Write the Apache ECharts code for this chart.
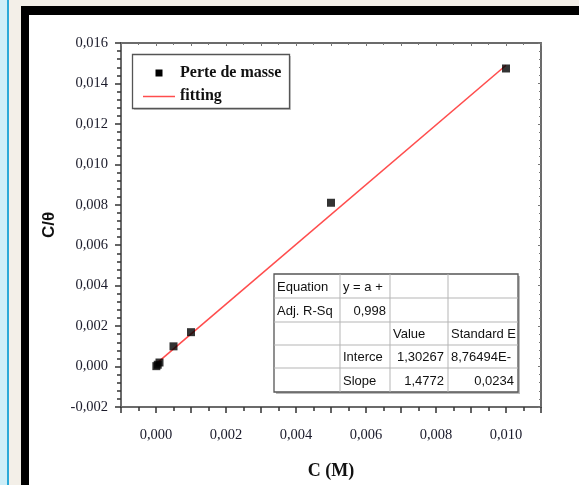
<!DOCTYPE html>
<html><head><meta charset="utf-8">
<script src="https://cdn.jsdelivr.net/npm/echarts@6/dist/echarts.min.js"></script>
<style>
html,body{margin:0;padding:0;width:579px;height:485px;overflow:hidden;background:#f3efe8;}
#strip{position:absolute;left:0;top:0;width:7px;height:485px;background:#cdeef8;}
#bar{position:absolute;left:7px;top:0;width:2px;height:485px;background:#2aa9d8;}
#frame{position:absolute;left:21px;top:6px;right:0;bottom:0;border-left:8px solid #000;border-top:9px solid #000;background:#fff;}
#chart{position:absolute;left:0;top:0;width:579px;height:485px;}
</style></head><body>
<div id="strip"></div><div id="bar"></div><div id="frame"></div>
<div id="chart"></div>
<script>
// ---- data ----
const concentration = [0.00001, 0.00005, 0.0001, 0.0005, 0.001, 0.005, 0.010];
const cOverTheta    = [0.00002, 0.00009, 0.0002, 0.0010, 0.0017, 0.0081, 0.01474];
const fitX = [0, 0.010];
const fitY = [0.00013, 0.0149];
const xRange = [-0.001, 0.011];
const yRange = [-0.002, 0.016];
const xLabelStep = 0.002;
const seriesNames = ['Perte de masse', 'fitting'];
const tableRows = [
  ['Equation', 'y = a +', '', ''],
  ['Adj. R-Sq', '0,998', '', ''],
  ['', '', 'Value', 'Standard E'],
  ['', 'Interce', '1,30267', '8,76494E-'],
  ['', 'Slope', '1,4772', '0,0234']
];

const fmt = v => {
  const r = Math.round(v * 10000) / 10000;
  return r.toFixed(3).replace('.', ',');
};
const fmtX = v => {
  const k = Math.round(v / 0.001);
  if (Math.abs(k % Math.round(xLabelStep / 0.001)) !== 0) return '';
  return fmt(v);
};
const serif = '"Liberation Serif","Times New Roman",serif';
const sans = '"Liberation Sans",Arial,sans-serif';

// table geometry
const colX = [274, 340, 390, 448, 518];
const rowY = [274, 298, 322, 345, 368, 392];
const align = [
  ['left','left','',''],
  ['left','right','',''],
  ['','','left','left'],
  ['','left','right','left'],
  ['','left','right','right']
];
const tableGraphics = [];
tableGraphics.push({type:'rect', shape:{x:colX[0]+2, y:rowY[0]+2, width:colX[4]-colX[0], height:rowY[5]-rowY[0]}, style:{fill:'#bbb'}, z:10});
tableGraphics.push({type:'rect', shape:{x:colX[0], y:rowY[0], width:colX[4]-colX[0], height:rowY[5]-rowY[0]}, style:{fill:'#fff', stroke:'#555', lineWidth:1.3}, z:11});
for (let i = 1; i < 5; i++) tableGraphics.push({type:'line', shape:{x1:colX[0], y1:rowY[i], x2:colX[4], y2:rowY[i]}, style:{stroke:'#b5b5b5', lineWidth:1}, z:12});
for (let j = 1; j < 4; j++) tableGraphics.push({type:'line', shape:{x1:colX[j], y1:rowY[0], x2:colX[j], y2:rowY[5]}, style:{stroke:'#b5b5b5', lineWidth:1}, z:12});
tableRows.forEach((row, i) => row.forEach((txt, j) => {
  if (!txt) return;
  const a = align[i][j];
  const x = a === 'left' ? colX[j] + 3 : colX[j+1] - 4;
  tableGraphics.push({type:'text', z:13, style:{text:txt, x:x, y:(rowY[i]+rowY[i+1])/2 + 1, align:a, verticalAlign:'middle', font:'13px ' + sans, fill:'#111'}});
}));

// legend box
const legendGraphics = [
  {type:'rect', shape:{x:134, y:56, width:157, height:54}, style:{fill:'#c8c8c8'}, z:10},
  {type:'rect', shape:{x:132.5, y:54.5, width:157, height:54}, style:{fill:'#fff', stroke:'#555', lineWidth:1.3}, z:11},
  {type:'rect', shape:{x:155.5, y:69.5, width:7, height:7}, style:{fill:'#000'}, z:12},
  {type:'text', z:12, style:{text:seriesNames[0], x:180, y:73, verticalAlign:'middle', font:'bold 16px ' + serif, fill:'#111'}},
  {type:'line', shape:{x1:143, y1:96.5, x2:175, y2:96.5}, style:{stroke:'#ff4d4d', lineWidth:1.5}, z:12},
  {type:'text', z:12, style:{text:seriesNames[1], x:180, y:96, verticalAlign:'middle', font:'bold 16px ' + serif, fill:'#111'}}
];

const chart = echarts.init(document.getElementById('chart'), null, {renderer:'canvas'});
const axisLineStyle = {color:'#6b6b6b', width:2};
chart.setOption({
  backgroundColor: 'transparent',
  animation: false,
  grid: {left:121, top:43, right:38, bottom:74, containLabel:false},
  xAxis: [{
    type:'value', min:xRange[0], max:xRange[1], interval:0.001, position:'bottom',
    name:'C (M)', nameLocation:'middle', nameGap:55,
    nameTextStyle:{fontFamily:serif, fontWeight:'bold', fontSize:18, color:'#111'},
    axisLine:{onZero:false, lineStyle:axisLineStyle},
    axisTick:{show:true, inside:false, length:6, lineStyle:{color:'#333', width:1.5}},
    minorTick:{show:true, splitNumber:2, length:4, lineStyle:{color:'#333', width:1.5}},
    axisLabel:{formatter:fmtX, interval:0, margin:21, fontFamily:serif, fontSize:14.5, color:'#1a1a2a', showMinLabel:false, showMaxLabel:false},
    splitLine:{show:false}
  },{
    type:'value', min:xRange[0], max:xRange[1], interval:0.001, position:'top',
    axisLine:{onZero:false, lineStyle:axisLineStyle},
    axisTick:{show:true, inside:true, length:3, lineStyle:{color:'#777'}},
    minorTick:{show:true, splitNumber:2, length:2, lineStyle:{color:'#777'}},
    axisLabel:{show:false}, splitLine:{show:false}
  }],
  yAxis: [{
    type:'value', min:yRange[0], max:yRange[1], interval:0.002, position:'left',
    name:'C/\u03b8', nameLocation:'middle', nameGap:63, nameRotate:90,
    nameTextStyle:{fontFamily:sans, fontWeight:'bold', fontSize:17, color:'#111'},
    axisLine:{onZero:false, lineStyle:axisLineStyle},
    axisTick:{show:true, inside:false, length:6, lineStyle:{color:'#333', width:1.5}},
    minorTick:{show:true, splitNumber:5, length:4, lineStyle:{color:'#333', width:1.5}},
    axisLabel:{formatter:fmt, margin:13, fontFamily:serif, fontSize:14.5, color:'#1a1a2a'},
    splitLine:{show:false}
  },{
    type:'value', min:yRange[0], max:yRange[1], interval:0.002, position:'right',
    axisLine:{onZero:false, lineStyle:axisLineStyle},
    axisTick:{show:true, inside:true, length:3, lineStyle:{color:'#777'}},
    minorTick:{show:true, splitNumber:5, length:2, lineStyle:{color:'#777'}},
    axisLabel:{show:false}, splitLine:{show:false}
  }],
  series: [{
    name: seriesNames[1], type:'line', xAxisIndex:0, yAxisIndex:0,
    data: fitX.map((x, i) => [x, fitY[i]]),
    symbol:'none', lineStyle:{color:'#ff4d4d', width:1.6}, z:3
  },{
    name: seriesNames[0], type:'scatter', xAxisIndex:0, yAxisIndex:0,
    data: concentration.map((x, i) => [x, cOverTheta[i]]),
    symbol:'rect', symbolSize:8, itemStyle:{color:'#000'}, z:4
  }],
  graphic: legendGraphics.concat(tableGraphics)
});
</script>
</body></html>
